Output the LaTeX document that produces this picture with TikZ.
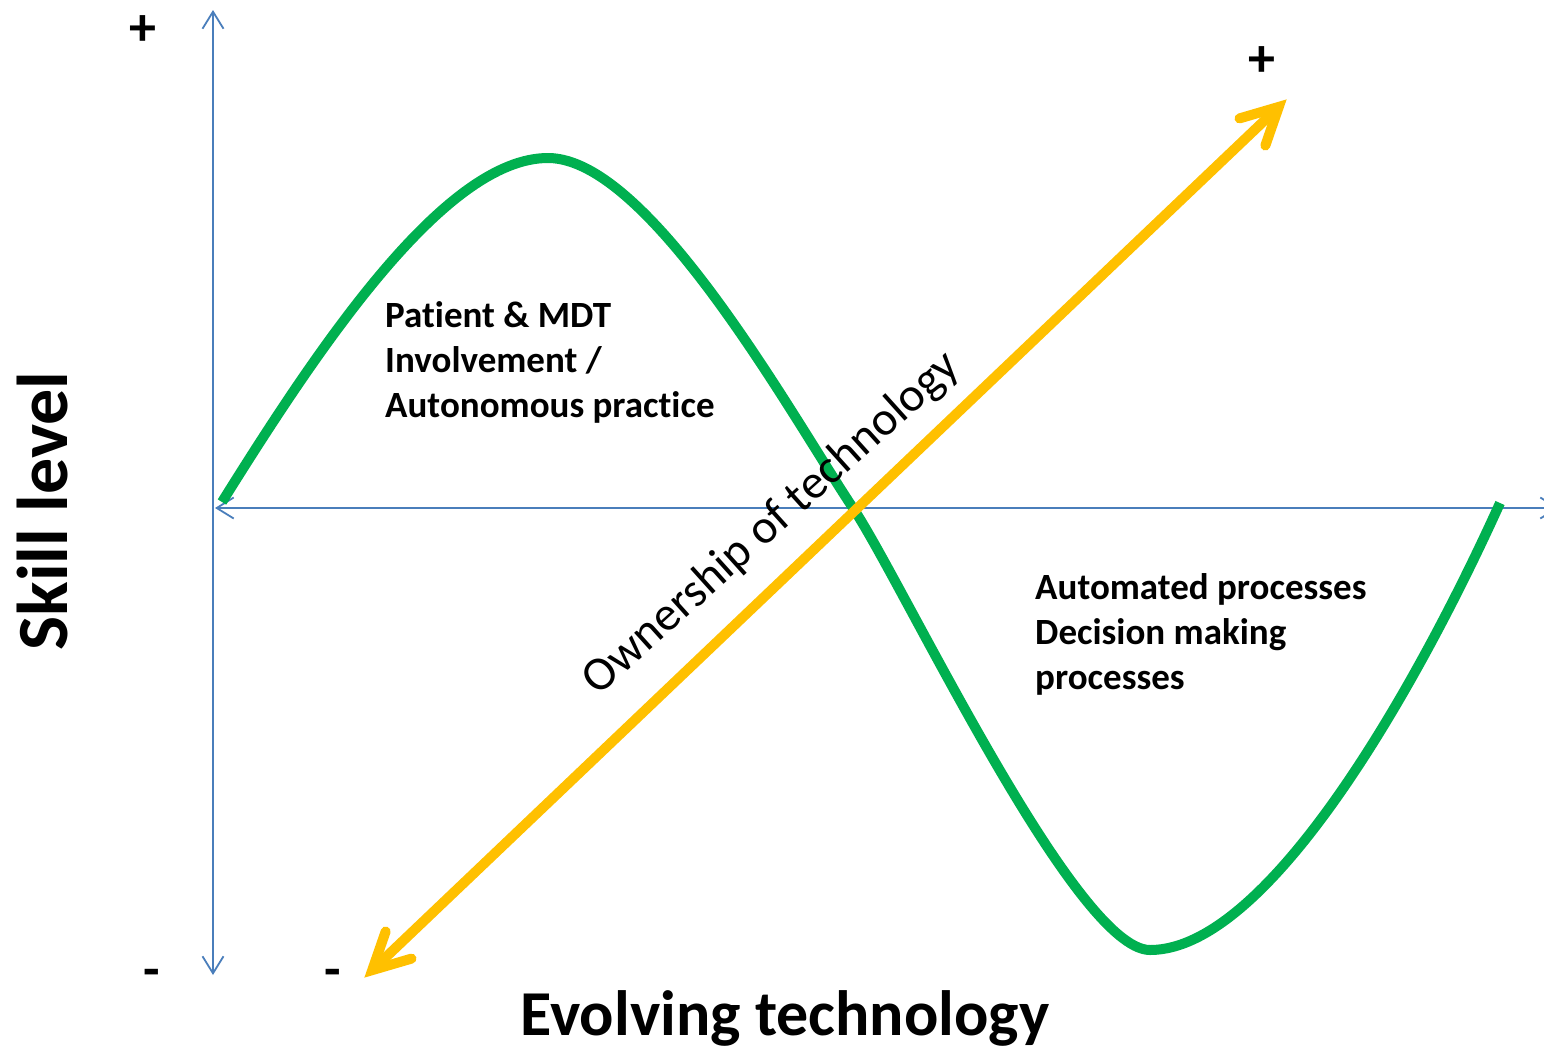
\documentclass[tikz,border=0pt]{standalone}
\usepackage{fontspec}
\setmainfont{Carlito}[Ligatures={NoCommon}]
\usetikzlibrary{arrows.meta,calc}
\definecolor{axisblue}{HTML}{4A7EBB}
\definecolor{curvegreen}{HTML}{00B050}
\definecolor{arrowyellow}{HTML}{FFC000}
\begin{document}
\begin{tikzpicture}[x=1pt,y=-1pt,
  skillaxis/.style={draw=axisblue,line width=1.8pt,{Straight Barb[length=17pt,width=21pt]}-{Straight Barb[length=17pt,width=21pt]}},
  greencurve/.style={draw=curvegreen,line width=10pt},
  yellowshaft/.style={draw=arrowyellow,line width=10pt},
  yellowbarb/.style={draw=arrowyellow,line width=10pt,line cap=round,line join=miter},
  bodytext/.style={font=\bfseries\fontsize{37}{45}\selectfont,align=left,inner sep=0pt,anchor=north west},
  signtext/.style={font=\bfseries\fontsize{54}{60}\selectfont,inner sep=0pt}]
\useasboundingbox (0,0) rectangle (1544,1047);
\clip (0,0) rectangle (1544,1047);
% axes
\coordinate (atop) at (213,10);
\coordinate (abot) at (213,975);
\coordinate (aleft) at (215,508);
\coordinate (aright) at (1559,508);
\draw[skillaxis] (abot) -- (atop);
\draw[skillaxis] (aleft) -- (aright);
% green curve
\coordinate (g0) at (222,502);
\coordinate (g1) at (548,158);
\coordinate (g2) at (853,508);
\coordinate (g3) at (1150,950);
\coordinate (g4) at (1500,503);
\draw[greencurve] (g0) .. controls (320,345) and (445,158) .. (g1)
  .. controls (650,158) and (793,418) .. (g2)
  .. controls (903,583) and (1075,950) .. (g3)
  .. controls (1270,950) and (1420,680) .. (g4);
% yellow double arrow
\coordinate (ytop) at (1286,100);
\coordinate (ybot) at (365,977);
\coordinate (ytopv) at ($(ytop)!10pt!(ybot)$);
\coordinate (ybotv) at ($(ybot)!10pt!(ytop)$);
\draw[yellowshaft] (ybotv) -- (ytopv);
\draw[yellowbarb] ($(ytop)!50pt!22:(ybot)$) -- (ytopv) -- ($(ytop)!50pt!-22:(ybot)$);
\draw[yellowbarb] ($(ybot)!50pt!22:(ytop)$) -- (ybotv) -- ($(ybot)!50pt!-22:(ytop)$);
% texts
\node[bodytext] (hump) at (385,301) {Patient \& MDT\\Involvement /\\Autonomous practice};
\node[bodytext] (dip) at (1035,573) {Automated processes\\Decision making\\processes};
\node[font=\bfseries\fontsize{72}{80}\selectfont,rotate=90,inner sep=0pt] (ylab) at (43,511) {Skill level};
\node[font=\bfseries\fontsize{64}{70}\selectfont,inner sep=0pt,anchor=base] (xlab) at (785,1035) {Evolving technology};
\node[font=\fontsize{48}{52}\selectfont,rotate=42,inner sep=0pt] (own) at (772,524) {Ownership of technology};
\node[signtext] (p1) at (143,31) {+};
\node[signtext] (p2) at (1262,62) {+};
\node[signtext] (m1) at (152,978) {-};
\node[signtext] (m2) at (333,978) {-};
\end{tikzpicture}
\end{document}
